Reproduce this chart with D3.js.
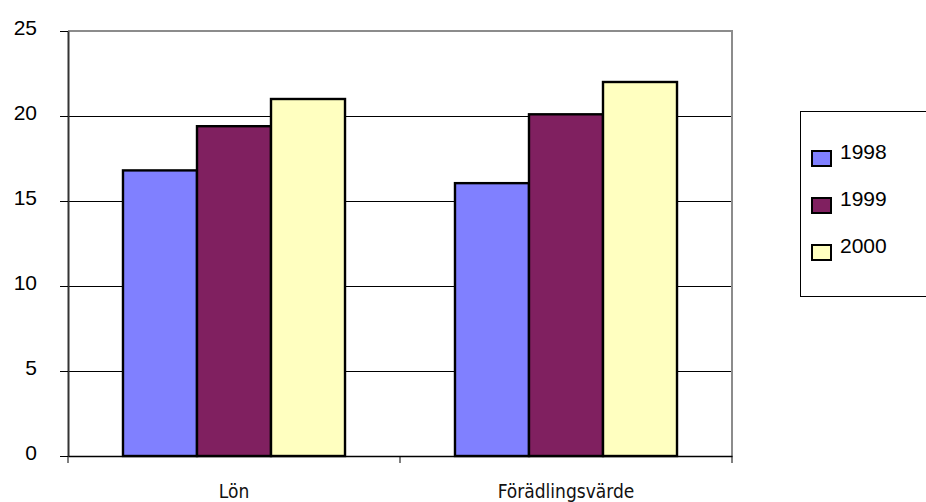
<!DOCTYPE html>
<html><head><meta charset="utf-8">
<script src="https://cdn.jsdelivr.net/npm/d3@7"></script>
<style>body{margin:0;background:#fff}</style>
</head><body>
<svg id="c" width="926" height="502"></svg>
<script>
const categories = ["Lön", "Förädlingsvärde"];
const series = ["1998", "1999", "2000"];
const values1998 = [16.8, 16.05];
const values1999 = [19.4, 20.1];
const values2000 = [21.0, 22.0];
const yTicks = [0, 5, 10, 15, 20, 25];
const colors = ["#8080FF", "#802060", "#FFFFC0"];

const allValues = [values1998, values1999, values2000];
const svg = d3.select("#c");
const L = 68, R = 732, T = 31, B = 456;

const x = d3.scaleBand().domain(categories).range([L, R]).padding(0);
const xi = d3.scaleBand().domain(series).range([0, x.bandwidth()]).paddingInner(0).paddingOuter(0.743);
const y = d3.scaleLinear().domain([0, 25]).range([B, T]);

// gridlines
svg.append("g").selectAll("line").data(yTicks.filter(d => d > 0 && d < 25)).join("line")
  .attr("x1", L).attr("x2", R).attr("y1", d => y(d)).attr("y2", d => y(d))
  .attr("stroke", "#000").attr("stroke-width", 1).attr("shape-rendering", "crispEdges");

// frame top and right
svg.append("path").attr("d", `M${L},${T}H${R}V${B}`).attr("fill", "none")
  .attr("stroke", "#8c8c8c").attr("stroke-width", 2);

// bars
const data = [];
categories.forEach((c, i) => series.forEach((s, j) => data.push({c, s, j, v: allValues[j][i]})));
svg.append("g").selectAll("rect").data(data).join("rect")
  .attr("x", d => x(d.c) + xi(d.s)).attr("width", xi.bandwidth())
  .attr("y", d => y(d.v)).attr("height", d => y(0) - y(d.v))
  .attr("fill", d => colors[d.j]).attr("stroke", "#000").attr("stroke-width", 2.4);

// y axis
const yAxis = d3.axisLeft(y).tickValues(yTicks).tickSize(8).tickPadding(23).tickSizeOuter(0);
const gy = svg.append("g").attr("transform", `translate(${L},0)`).call(yAxis);
gy.select(".domain").attr("stroke", "#333").attr("stroke-width", 2);
gy.selectAll(".tick line").attr("stroke", "#000");
gy.selectAll("text").attr("font-family", "Liberation Sans, Arial, sans-serif").attr("font-size", 21).attr("fill", "#000").attr("dy", "0.15em");

// x axis
const xAxis = d3.axisBottom(x).tickSize(0).tickPadding(29).tickSizeOuter(0);
const gx = svg.append("g").attr("transform", `translate(0,${B})`).call(xAxis);
gx.select(".domain").attr("stroke", "#000").attr("stroke-width", 1.5);
gx.selectAll("text").attr("font-family", "DejaVu Sans Condensed, sans-serif").attr("font-stretch", "condensed")
  .attr("font-size", 19).attr("fill", "#111");
// category boundary ticks
const bounds = [L, ...categories.map(c => x(c) + x.bandwidth())];
gx.selectAll(".bt").data(bounds).join("line").attr("class", "bt")
  .attr("x1", d => d).attr("x2", d => d).attr("y1", 0).attr("y2", 7).attr("stroke", "#000");

// legend
const lg = svg.append("g");
lg.append("rect").attr("x", 800.5).attr("y", 111.5).attr("width", 140).attr("height", 185)
  .attr("fill", "#fff").attr("stroke", "#000").attr("stroke-width", 1);
const ly = d3.scalePoint().domain(series).range([151, 245]);
series.forEach((s, j) => {
  lg.append("rect").attr("x", 812).attr("y", ly(s)).attr("width", 19).attr("height", 15)
    .attr("fill", colors[j]).attr("stroke", "#000").attr("stroke-width", 2);
  lg.append("text").attr("x", 840).attr("y", ly(s) + 8).text(s)
    .attr("font-family", "Liberation Sans, Arial, sans-serif").attr("font-size", 21).attr("fill", "#000");
});
</script>
</body></html>
